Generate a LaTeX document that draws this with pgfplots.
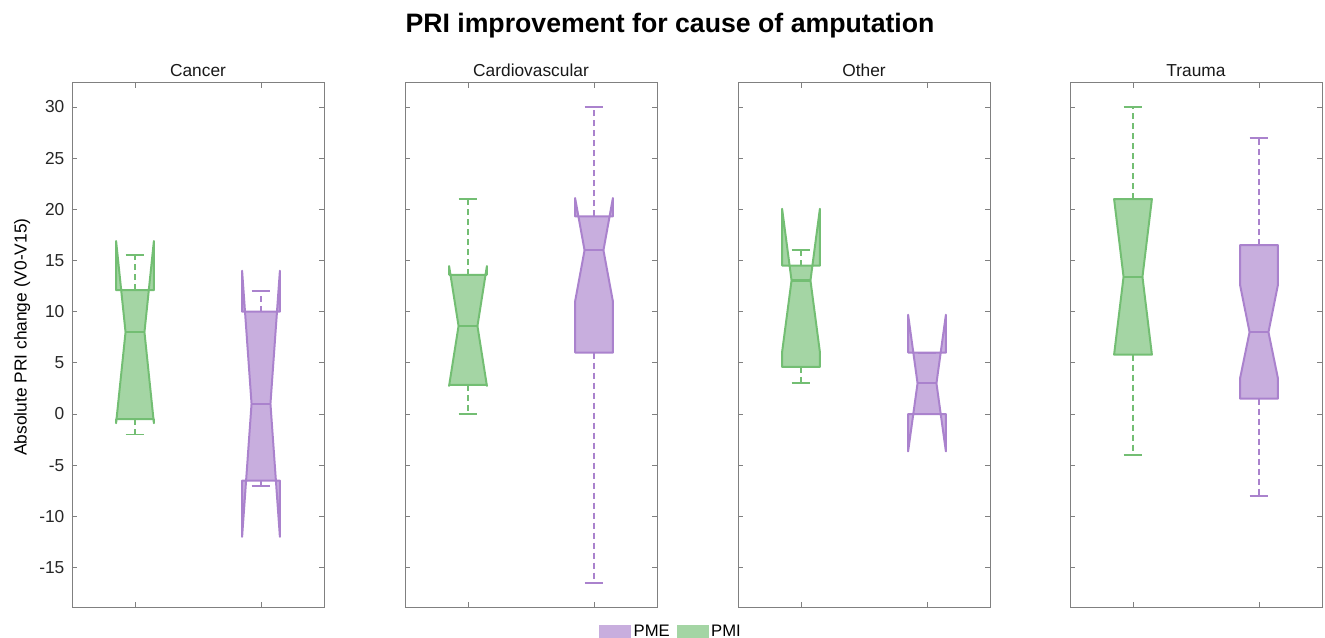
\documentclass[border=0pt]{standalone}
\usepackage{pgfplots}
\pgfplotsset{compat=1.18}
\usepackage{fontspec}
\setmainfont{Liberation Sans}
\definecolor{pmi}{RGB}{115,190,115}
\definecolor{pme}{RGB}{170,130,205}

% #1 x, #2 colour, #3 lower whisker, #4 q1, #5 lower notch, #6 median, #7 upper notch, #8 q3, #9 upper whisker
\newcommand{\nbox}[9]{%
 \pgfmathsetmacro\xa{#1-0.15}%
 \pgfmathsetmacro\xb{#1-0.075}%
 \pgfmathsetmacro\xc{#1+0.075}%
 \pgfmathsetmacro\xd{#1+0.15}%
 \edef\tmp{%
 \noexpand\addplot[draw=#2, dash pattern=on 4.5pt off 3pt, line width=1.4pt] coordinates {(#1,#8) (#1,#9)};
 \noexpand\addplot[draw=#2, dash pattern=on 4.5pt off 3pt, line width=1.4pt] coordinates {(#1,#4) (#1,#3)};
 \noexpand\addplot[draw=#2, line width=1.4pt] coordinates {(\xb,#9) (\xc,#9)};
 \noexpand\addplot[draw=#2, line width=1.4pt] coordinates {(\xb,#3) (\xc,#3)};
 \noexpand\addplot[draw=#2, fill=#2, fill opacity=0.65, line width=1.5pt, line join=round] coordinates {(\xa,#4) (\xa,#5) (\xb,#6) (\xa,#7) (\xa,#8) (\xd,#8) (\xd,#7) (\xc,#6) (\xd,#5) (\xd,#4)} --cycle;
 \noexpand\addplot[draw=#2, line width=1.7pt] coordinates {(\xb,#6) (\xc,#6)};
 }\tmp}

\pgfplotsset{panel/.style={
 scale only axis, width=189pt, height=393.8pt, anchor=south west,
 xmin=0.5, xmax=2.5, ymin=-18.9, ymax=32.4,
 xtick={1,2}, xticklabels={},
 ytick={-15,-10,...,30},
 tick align=inside, major tick length=4pt,
 axis line style={black!50, line width=0.6pt},
 tick style={black!50, line width=0.6pt},
 yticklabel style={text=black!85, font=\fontsize{13}{15}\selectfont, xshift=-2.2pt},
 /pgf/number format/assume math mode=true,
 title style={font=\fontsize{13}{15}\selectfont, text=black!90, yshift=-5pt},
}}

\begin{document}
\begin{tikzpicture}
\path[use as bounding box] (0,0) rectangle (993.75pt,478.5pt);
\node[font=\bfseries\fontsize{20}{24}\selectfont] at (502.5pt,459.5pt) {PRI improvement for cause of amputation};

\begin{axis}[panel, at={(54pt,22.9pt)}, title={Cancer},
 ylabel={Absolute PRI change (V0-V15)},
 ylabel style={font=\fontsize{13}{15}\selectfont, at={(axis description cs:-0.198,0.515)}, anchor=center},
 legend columns=2,
 legend style={at={(axis description cs:2.378,-0.0467)}, anchor=center, draw=none, fill=none,
   font=\fontsize{12.5}{15}\selectfont, /tikz/every even column/.append style={column sep=3pt}},
 legend image code/.code={\fill[#1] (0pt,-5.6pt) rectangle (24pt,5.6pt);}]
\addlegendimage{fill=pme, fill opacity=0.65, draw=none}
\addlegendentry{PME}
\addlegendimage{fill=pmi, fill opacity=0.65, draw=none}
\addlegendentry{PMI}
\nbox{1}{pmi}{-2}{-0.5}{-0.9}{8}{16.9}{12.1}{15.5}
\nbox{2}{pme}{-7}{-6.5}{-12}{1}{14}{10}{12}
\end{axis}

\begin{axis}[panel, at={(303.75pt,22.9pt)}, title={Cardiovascular}, yticklabels={}]
\nbox{1}{pmi}{0}{2.85}{2.75}{8.6}{14.45}{13.6}{21}
\nbox{2}{pme}{-16.5}{6}{11}{16}{21.1}{19.3}{30}
\end{axis}

\begin{axis}[panel, at={(553.5pt,22.9pt)}, title={Other}, yticklabels={}]
\nbox{1}{pmi}{3}{4.6}{6.05}{13.05}{20.05}{14.5}{16}
\nbox{2}{pme}{0}{0}{-3.65}{3}{9.7}{6}{6}
\end{axis}

\begin{axis}[panel, at={(802.5pt,22.9pt)}, title={Trauma}, yticklabels={}]
\nbox{1}{pmi}{-4}{5.8}{5.8}{13.4}{21}{21}{30}
\nbox{2}{pme}{-8}{1.5}{3.5}{8}{12.6}{16.5}{27}
\end{axis}
\end{tikzpicture}
\end{document}
